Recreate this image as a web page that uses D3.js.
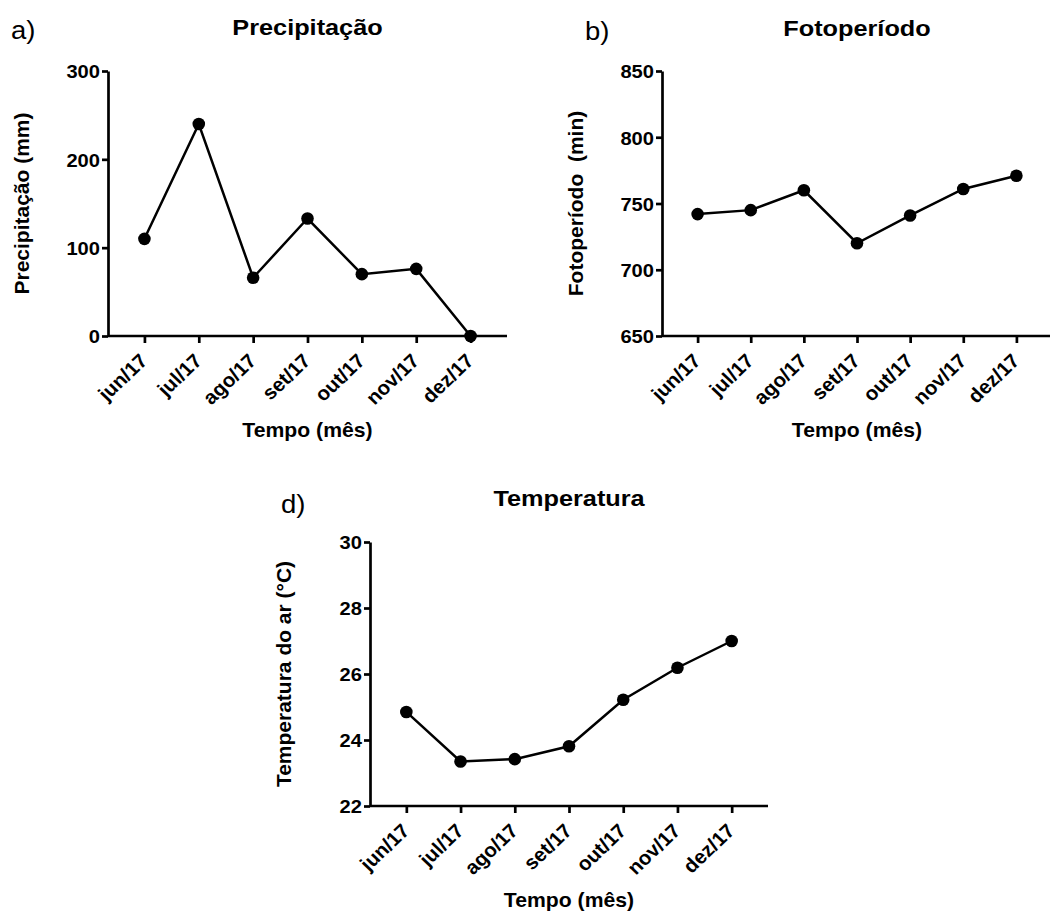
<!DOCTYPE html>
<html lang="pt">
<head>
  <meta charset="UTF-8" />
  <title>Precipitação, Fotoperíodo e Temperatura</title>
  <script src="https://d3js.org/d3.v7.min.js"></script>
  <style>
    body { margin: 0; background: #fff; }
    svg { display: block; font-family: "Liberation Sans", Arial, sans-serif; }
    .axis path, .axis line { stroke: #000; stroke-width: 2.7; }
    .axis text { fill: #000; font-weight: bold; }
    .serie { fill: none; stroke: #000; stroke-width: 2.5; }
    .ponto { fill: #000; }
    .titulo { font-weight: bold; font-size: 22px; }
    .eixo-titulo { font-weight: bold; white-space: pre; }
    .letra { font-size: 25px; }
  </style>
</head>
<body>
  <svg id="grafico" width="1050" height="912"></svg>

  <script>
    // dados
    const meses = ["jun/17", "jul/17", "ago/17", "set/17", "out/17", "nov/17", "dez/17"];
    const precipitacao = [110, 240, 66, 133, 70, 76, 0];
    const fotoperiodo = [742, 745, 760, 720, 741, 761, 771];
    const temperatura = [24.85, 23.35, 23.42, 23.81, 25.22, 26.19, 27.0];

    const ticksPrecip = [0, 100, 200, 300];
    const ticksFoto = [650, 700, 750, 800, 850];
    const ticksTemp = [22, 24, 26, 28, 30];

    const svg = d3.select("#grafico");

    // o texto da figura original aparece um pouco mais largo que o Arial
    const SX = 1.06;

    function painel(cfg) {
      const g = svg.append("g");

      const x = d3.scalePoint()
        .domain(meses)
        .range([cfg.left, cfg.right])
        .padding(0.67);

      const y = d3.scaleLinear()
        .domain(cfg.domain)
        .range([cfg.bottom, cfg.top]);

      // eixo y
      const ay = g.append("g")
        .attr("class", "axis")
        .attr("transform", `translate(${cfg.left},0)`)
        .call(d3.axisLeft(y).tickValues(cfg.ticks).tickSize(6).tickSizeOuter(0));
      ay.selectAll("text")
        .attr("x", 0)
        .attr("dy", "0.36em")
        .attr("transform", `translate(-8,0) scale(${SX},1)`)
        .style("font-size", "19px");

      // eixo x
      const ax = g.append("g")
        .attr("class", "axis")
        .attr("transform", `translate(0,${cfg.bottom})`)
        .call(d3.axisBottom(x).tickSize(7).tickSizeOuter(0));
      ax.select(".domain").attr("d", `M${cfg.left},0H${cfg.right}`);
      ax.selectAll("text")
        .attr("x", 0)
        .attr("y", 0)
        .attr("dy", 0)
        .attr("text-anchor", "end")
        .attr("transform", `translate(4,26) scale(${SX},1) rotate(-45)`)
        .style("font-size", "19.5px");

      // linha e pontos
      const linha = d3.line()
        .x((d, i) => x(meses[i]))
        .y(d => y(d));

      g.append("path")
        .datum(cfg.valores)
        .attr("class", "serie")
        .attr("d", linha);

      g.selectAll(".ponto")
        .data(cfg.valores)
        .enter().append("circle")
        .attr("class", "ponto")
        .attr("cx", (d, i) => x(meses[i]))
        .attr("cy", d => y(d))
        .attr("r", 6.3);

      // títulos
      const cx = (cfg.left + cfg.right) / 2;
      g.append("text")
        .attr("class", "titulo")
        .attr("text-anchor", "middle")
        .attr("transform", `translate(${cx},${cfg.tituloY}) scale(1.15,1)`)
        .text(cfg.titulo);

      g.append("text")
        .attr("class", "letra")
        .attr("transform", `translate(${cfg.letraX},${cfg.letraY}) scale(1.1,1)`)
        .text(cfg.letra);

      g.append("text")
        .attr("class", "eixo-titulo")
        .attr("text-anchor", "middle")
        .attr("transform", `translate(${cx},${cfg.bottom + 101}) scale(${SX},1)`)
        .style("font-size", "20px")
        .text("Tempo (mês)");

      g.append("text")
        .attr("class", "eixo-titulo")
        .attr("text-anchor", "middle")
        .attr("transform", `translate(${cfg.left - 79},${(cfg.top + cfg.bottom) / 2}) rotate(-90)`)
        .style("font-size", "21px")
        .text(cfg.yTitulo);
    }

    painel({
      left: 108, right: 507, top: 71, bottom: 336,
      domain: [0, 300], ticks: ticksPrecip, valores: precipitacao,
      titulo: "Precipitação", tituloY: 35,
      letra: "a)", letraX: 11, letraY: 39,
      yTitulo: "Precipitação (mm)"
    });

    painel({
      left: 662, right: 1052, top: 71, bottom: 336,
      domain: [650, 850], ticks: ticksFoto, valores: fotoperiodo,
      titulo: "Fotoperíodo", tituloY: 36,
      letra: "b)", letraX: 585, letraY: 40,
      yTitulo: "Fotoperíodo  (min)"
    });

    painel({
      left: 370, right: 768, top: 542, bottom: 806,
      domain: [22, 30], ticks: ticksTemp, valores: temperatura,
      titulo: "Temperatura", tituloY: 506,
      letra: "d)", letraX: 281, letraY: 513,
      yTitulo: "Temperatura do ar (°C)"
    });
  </script>
</body>
</html>
